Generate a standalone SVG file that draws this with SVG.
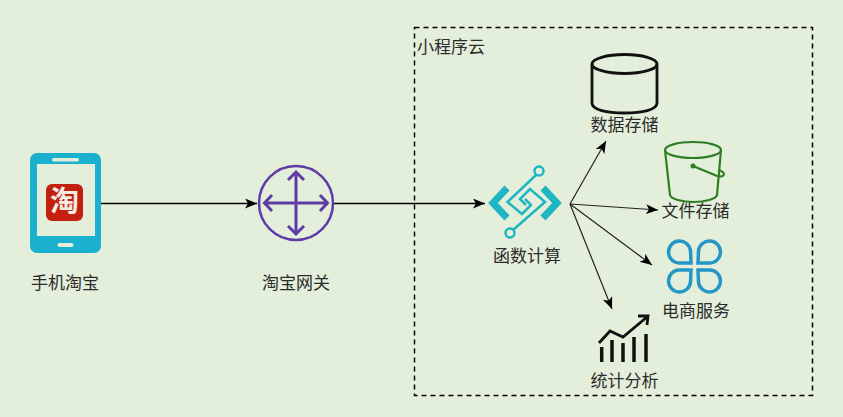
<svg xmlns="http://www.w3.org/2000/svg" width="843" height="417" viewBox="0 0 843 417">
<style>
.t{font-family:"Noto Sans CJK SC","Liberation Sans",sans-serif;font-size:17px;fill:#2b2b2b;text-anchor:middle}
.c{fill:none;stroke:#000;stroke-width:1.600}
.c2{fill:none;stroke:#222;stroke-width:1.200}
</style>
<defs>
<marker id="a" markerUnits="userSpaceOnUse" markerWidth="14" markerHeight="12" refX="12" refY="5" orient="auto"><path d="M0 0L12 5L0 10L3 5Z" fill="#000"/></marker>
</defs>
<rect width="843" height="417" fill="#e3efda"/>
<g id="cloud"><rect x="414.500" y="27.500" width="398" height="368" fill="none" stroke="#000" stroke-width="1.500" stroke-dasharray="5 4"/><text class="t" x="451" y="53">小程序云</text></g>
<g id="connectors">
<path class="c" d="M101 203.500H257" marker-end="url(#a)"/>
<path class="c" d="M334 203.500H485" marker-end="url(#a)"/>
<path class="c2" d="M570 204L606 141" marker-end="url(#a)"/>
<path class="c2" d="M570 204L658 210" marker-end="url(#a)"/>
<path class="c2" d="M570 204L652 265" marker-end="url(#a)"/>
<path class="c2" d="M570 204L612 309" marker-end="url(#a)"/>
</g>
<g id="taobao">
<rect x="30" y="153" width="71" height="100" rx="7" fill="#1bb1ce"/>
<rect x="37" y="164" width="58" height="72" fill="#e3efda"/>
<rect x="52" y="158" width="27" height="3.500" rx="1.700" fill="#e3efda"/>
<rect x="57.500" y="243" width="16" height="4" rx="2" fill="#e3efda"/>
<rect x="46" y="184" width="37" height="37" rx="6" fill="#c3200f"/>
<text x="64.500" y="212" font-family="Noto Sans CJK SC,sans-serif" font-size="29" font-weight="700" fill="#f6ece4" text-anchor="middle">淘</text>
<text class="t" x="65" y="289">手机淘宝</text>
</g>
<g id="gateway" fill="none" stroke="#5f3ba6" stroke-width="2.500">
<circle cx="296" cy="203" r="37"/>
<path d="M265 203H327M296 172V234M272 195L264.500 203L272 211M320 195L327.500 203L320 211M288 180L296 172L304 180M288 226L296 234L304 226" stroke-width="3"/>
<text class="t" x="296" y="289" stroke="none">淘宝网关</text>
</g>
<g id="function">
<path d="M507 188L493 203L507 218M543 188L557 203L543 218" fill="none" stroke="#1fb5c2" stroke-width="7"/>
<g fill="none" stroke="#1fb5c2" stroke-width="2.500">
<circle cx="539" cy="171" r="4.500"/><circle cx="510" cy="233" r="4.500"/>
<path d="M536 175L507.500 202L522 214L531 205L525 199M513 230L545 202L530 189L520 199L526 205"/>
</g>
<text class="t" x="527" y="262">函数计算</text>
</g>
<g id="db">
<path d="M592 64V103C592 110 607 113 624.500 113S657 110 657 103V64" fill="none" stroke="#111" stroke-width="2.800"/>
<ellipse cx="624.500" cy="64" rx="32.500" ry="9.500" fill="none" stroke="#111" stroke-width="2.800"/>
<text class="t" x="624.500" y="131">数据存储</text>
</g>
<g id="oss">
<ellipse cx="693" cy="150" rx="28" ry="8" fill="none" stroke="#2e7d22" stroke-width="2.200"/>
<path d="M665 150L670 195C671 199 682 202 693.500 202S716 199 717 195L721 150" fill="none" stroke="#2e7d22" stroke-width="2.200"/>
<circle cx="693" cy="166" r="2.500" fill="#2e7d22"/>
<path d="M693 166L717 176C726 178 726 172 718 170" fill="none" stroke="#2e7d22" stroke-width="2.200"/>
<text class="t" x="695.500" y="217">文件存储</text>
</g>
<g id="ecom">
<g fill="none" stroke="#2497c6" stroke-width="3.500">
<path d="M691 263H679A11 11 0 1 1 690.500 251Z"/>
<path d="M698 263H710A11 11 0 1 0 698.500 251Z"/>
<path d="M691 270H679A11 11 0 1 0 690.500 282Z"/>
<path d="M698 270H710A11 11 0 1 1 698.500 282Z"/>
</g>
<text class="t" x="696" y="317">电商服务</text>
</g>
<g id="stats" fill="none" stroke="#111">
<path d="M599 343L610 331L623 337L647 317" stroke-width="2.800"/>
<path d="M638 316L648 316L647 325" stroke-width="2.800"/>
<path d="M601.700 347V362M612 340V362M623 343V362M634 337V362M646 334V362" stroke-width="3.500"/>
<text class="t" x="624.500" y="387" stroke="none">统计分析</text>
</g>
</svg>
